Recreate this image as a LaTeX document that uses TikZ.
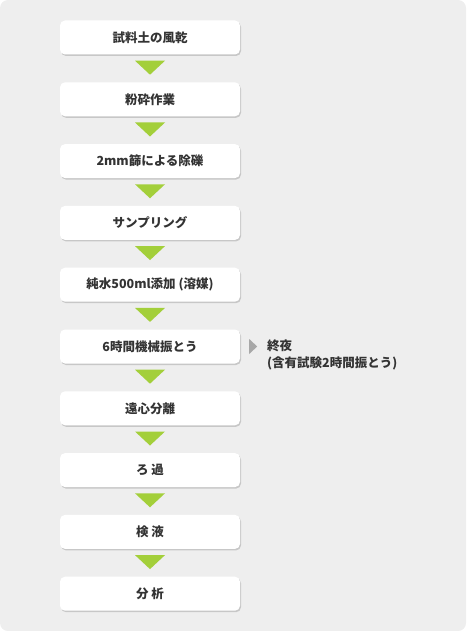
\documentclass[tikz,border=0pt]{standalone}
\usepackage{fontspec}
\setmainfont{Noto Sans CJK JP}
\usepackage{tikz}
\usetikzlibrary{shadows}
\definecolor{bggray}{HTML}{EEEEEE}
\definecolor{arrowgreen}{HTML}{A3CF3A}
\definecolor{notegray}{HTML}{A8A8A8}
\definecolor{textgray}{HTML}{333333}

\begin{document}
\begin{tikzpicture}[x=1pt, y=-1pt,
        procbox/.style={fill=white, rounded corners=5pt, minimum width=180pt, minimum height=34pt, inner sep=0pt,
            text=textgray, font=\bfseries\fontsize{12.5}{15}\selectfont,
            drop shadow={shadow xshift=1pt, shadow yshift=-1.5pt, fill=black!22, opacity=1}},
        notetext/.style={anchor=west, align=left, inner sep=0pt, text=textgray, font=\bfseries\fontsize{12.5}{17}\selectfont}]

        % background panel
        \fill[bggray, rounded corners=8pt] (0, 0) rectangle (466, 631);

        \node[procbox] at (150, 37.5)  (s1)  {試料土の風乾};
        \node[procbox] at (150, 99.3)  (s2)  {粉砕作業};
        \node[procbox] at (150, 161.1) (s3)  {2mm篩による除礫};
        \node[procbox] at (150, 222.9) (s4)  {サンプリング};
        \node[procbox] at (150, 284.7) (s5)  {純水500ml添加 (溶媒)};
        \node[procbox] at (150, 346.5) (s6)  {6時間機械振とう};
        \node[procbox] at (150, 408.3) (s7)  {遠心分離};
        \node[procbox] at (150, 470.1) (s8)  {ろ\ 過};
        \node[procbox] at (150, 531.9) (s9)  {検\ 液};
        \node[procbox] at (150, 593.7) (s10) {分\ 析};

        \node[notetext] at (267, 355) (note) {終夜\\(含有試験2時間振とう)};

        % green arrows between the steps
        \fill[arrowgreen] ([shift={(-15pt,-6pt)}]s1.south) -- ([shift={(15pt,-6pt)}]s1.south) -- ([yshift=-20pt]s1.south) -- cycle;
        \fill[arrowgreen] ([shift={(-15pt,-6pt)}]s2.south) -- ([shift={(15pt,-6pt)}]s2.south) -- ([yshift=-20pt]s2.south) -- cycle;
        \fill[arrowgreen] ([shift={(-15pt,-6pt)}]s3.south) -- ([shift={(15pt,-6pt)}]s3.south) -- ([yshift=-20pt]s3.south) -- cycle;
        \fill[arrowgreen] ([shift={(-15pt,-6pt)}]s4.south) -- ([shift={(15pt,-6pt)}]s4.south) -- ([yshift=-20pt]s4.south) -- cycle;
        \fill[arrowgreen] ([shift={(-15pt,-6pt)}]s5.south) -- ([shift={(15pt,-6pt)}]s5.south) -- ([yshift=-20pt]s5.south) -- cycle;
        \fill[arrowgreen] ([shift={(-15pt,-6pt)}]s6.south) -- ([shift={(15pt,-6pt)}]s6.south) -- ([yshift=-20pt]s6.south) -- cycle;
        \fill[arrowgreen] ([shift={(-15pt,-6pt)}]s7.south) -- ([shift={(15pt,-6pt)}]s7.south) -- ([yshift=-20pt]s7.south) -- cycle;
        \fill[arrowgreen] ([shift={(-15pt,-6pt)}]s8.south) -- ([shift={(15pt,-6pt)}]s8.south) -- ([yshift=-20pt]s8.south) -- cycle;
        \fill[arrowgreen] ([shift={(-15pt,-6pt)}]s9.south) -- ([shift={(15pt,-6pt)}]s9.south) -- ([yshift=-20pt]s9.south) -- cycle;

        % grey pointer to the note
        \fill[notegray] ([shift={(9pt,7.5pt)}]s6.east) -- ([shift={(9pt,-7.5pt)}]s6.east) -- ([xshift=17pt]s6.east) -- cycle;
    \end{tikzpicture}
\end{document}
